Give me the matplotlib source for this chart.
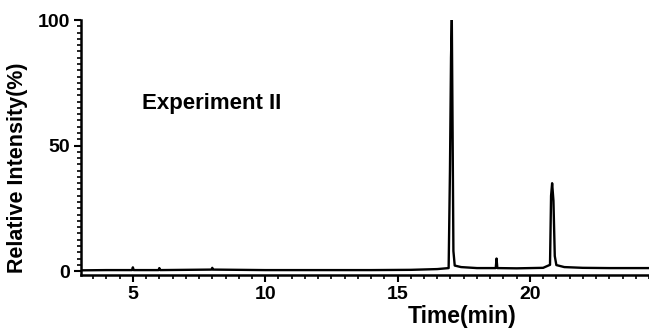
import matplotlib
matplotlib.use("Agg")
import matplotlib.pyplot as plt
from matplotlib.ticker import MultipleLocator

# chromatogram trace (time in min, relative intensity in %)
time = [3.0, 4.0, 4.97, 5.0, 5.03, 5.5, 5.97, 6.0, 6.03, 7.0, 7.97, 8.0, 8.03, 9.0,
        10.0, 12.0, 14.0, 15.5, 16.5, 16.93, 16.98, 17.02, 17.05, 17.08, 17.11, 17.16,
        17.4, 18.0, 18.71, 18.74, 18.77, 19.5, 20.5, 20.76, 20.8, 20.84, 20.89, 20.94,
        21.0, 21.3, 22.0, 23.0, 24.5]
intensity = [0.3, 0.4, 0.4, 1.5, 0.4, 0.4, 0.4, 1.2, 0.4, 0.5, 0.6, 1.3, 0.6, 0.5,
             0.4, 0.4, 0.4, 0.5, 0.8, 1.2, 40, 85, 100, 55, 8, 2.2,
             1.6, 1.2, 1.2, 5.0, 1.2, 1.1, 1.3, 2.5, 30, 35, 28, 6,
             2.4, 1.6, 1.3, 1.2, 1.2]

x_ticks = [5, 10, 15, 20]
y_ticks = [0, 50, 100]

plt.rcParams["font.family"] = ["Liberation Sans", "DejaVu Sans"]
plt.rcParams["font.weight"] = "bold"

fig = plt.figure(figsize=(6.49, 3.28), dpi=100)
ax = fig.add_axes([0.1248, 0.162, 0.8752, 0.777])
ax.plot(time, intensity, color="black", lw=1.7)

ax.set_xlim(3.04, 24.5)
ax.set_ylim(-1.5, 100)
ax.spines["top"].set_visible(False)
ax.spines["right"].set_visible(False)
for s in ("left", "bottom"):
    ax.spines[s].set_linewidth(1.8)

ax.set_xticks(x_ticks)
ax.set_yticks(y_ticks)
ax.xaxis.set_minor_locator(MultipleLocator(0.5))
ax.yaxis.set_minor_locator(MultipleLocator(2.5))
ax.tick_params(which="major", direction="out", length=5, width=1.5, labelsize=14, pad=3)
ax.tick_params(which="minor", direction="out", length=3, width=1.2)
for lab in ax.get_xticklabels() + ax.get_yticklabels():
    lab.set_fontweight("heavy")

ax.text(0.107, 0.65, "Experiment II", transform=ax.transAxes, fontsize=16,
        fontweight="heavy")
ax.set_ylabel("Relative Intensity(%)", fontsize=15.5, fontweight="heavy")
ax.yaxis.set_label_coords(-0.094, 0.42)
fig.text(0.712, 0.0, "Time(min)", fontsize=16.5, fontweight="heavy", ha="center",
         va="bottom")

fig.savefig("out.png", dpi=100)
